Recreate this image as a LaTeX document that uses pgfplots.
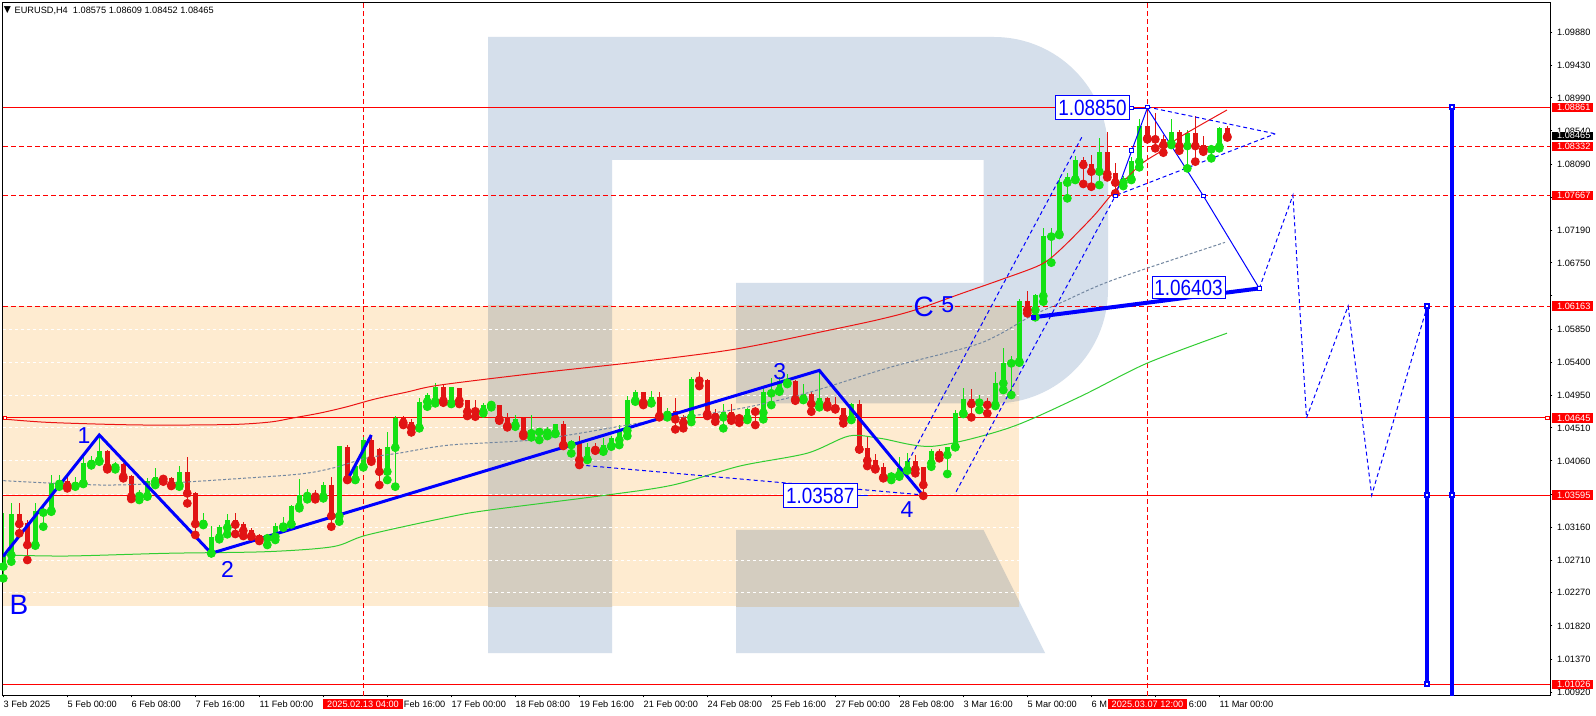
\documentclass[border=0pt]{standalone}
\usepackage{fontspec}
\setmainfont{Liberation Sans}
\newfontfamily\lbf[FakeStretch=0.86]{Liberation Sans}
\newfontfamily\djv{DejaVu Sans}
\usepackage{pgfplots}
\usepackage{pgfplotstable}
\pgfplotsset{compat=1.18}
\definecolor{bullc}{RGB}{20,225,20}
\definecolor{bearc}{RGB}{225,20,20}
\definecolor{lvl}{RGB}{255,0,0}
\definecolor{rblue}{RGB}{213,223,235}
\definecolor{rorange}{RGB}{254,235,208}
\definecolor{rgray}{RGB}{212,205,192}
\definecolor{wblue}{RGB}{0,0,255}
\definecolor{maslate}{RGB}{115,135,160}
\definecolor{magreen}{RGB}{50,205,50}
\definecolor{mared}{RGB}{235,20,20}
\newcommand{\tfont}{\fontsize{4.6}{5}\selectfont}
\newcommand{\Rshape}[1]{%
 \fill[#1] (488,37) -- (900,37) [rounded corners=57pt] -- (1108,37) -- (1108,403.5) -- (900,403.5) [sharp corners] -- (736,403.5) -- (736,283) -- (983.5,283) -- (983.5,160) -- (612,160) -- (612,653) -- (488,653) -- cycle;
 \fill[#1] (736,529.8) -- (983.5,529.8) -- (1045,653) -- (736,653) -- cycle;}

\pgfplotstableread{
x bl bh wl wh
0 1.02626 1.02784 1.02467 1.03350
1 1.02784 1.03341 1.02694 1.03494
4 1.02920 1.03381 1.02911 1.03494
5 1.03359 1.03395 1.03169 1.03463
6 1.03386 1.03766 1.03372 1.03870
7 1.03748 1.03802 1.03712 1.03870
9 1.03721 1.03780 1.03712 1.03847
10 1.03757 1.04037 1.03748 1.04155
11 1.04019 1.04074 1.04001 1.04128
12 1.04065 1.04200 1.04051 1.04413
14 1.03974 1.04019 1.03947 1.04051
17 1.03585 1.03608 1.03531 1.03666
18 1.03585 1.03789 1.03576 1.03825
19 1.03780 1.03838 1.03734 1.03960
22 1.03734 1.03915 1.03712 1.03992
25 1.03205 1.03259 1.03191 1.03359
26 1.02807 1.03033 1.02807 1.03178
27 1.03024 1.03169 1.02997 1.03191
28 1.03155 1.03259 1.03065 1.03336
33 1.03010 1.03046 1.02920 1.03056
34 1.03033 1.03178 1.02988 1.03223
35 1.03169 1.03223 1.03155 1.03295
36 1.03205 1.03449 1.03200 1.03463
37 1.03440 1.03599 1.03418 1.03811
38 1.03585 1.03599 1.03540 1.03675
40 1.03576 1.03730 1.03553 1.03780
42 1.03313 1.04264 1.03237 1.04264
44 1.03811 1.03992 1.03802 1.04006
45 1.03983 1.04345 1.03974 1.04390
48 1.03915 1.04246 1.03802 1.04458
49 1.04241 1.04639 1.03712 1.04671
52 1.04513 1.04866 1.04504 1.04911
53 1.04866 1.04956 1.04798 1.04979
54 1.04866 1.05069 1.04843 1.05124
56 1.04843 1.05060 1.04834 1.05060
60 1.04730 1.04820 1.04707 1.04843
61 1.04820 1.04843 1.04789 1.04866
64 1.04544 1.04626 1.04526 1.04685
66 1.04436 1.04458 1.04381 1.04685
67 1.04454 1.04472 1.04345 1.04503
68 1.04445 1.04458 1.04399 1.04517
69 1.04436 1.04558 1.04427 1.04562
71 1.04277 1.04332 1.04164 1.04345
73 1.04083 1.04246 1.04074 1.04300
75 1.04200 1.04277 1.04187 1.04368
76 1.04264 1.04368 1.04255 1.04399
77 1.04345 1.04481 1.04277 1.04549
78 1.04472 1.04888 1.04399 1.04942
79 1.04879 1.05001 1.04866 1.05024
81 1.04852 1.04924 1.04843 1.05015
83 1.04685 1.04743 1.04653 1.04775
86 1.04653 1.05169 1.04589 1.05205
90 1.04653 1.04730 1.04504 1.04834
93 1.04639 1.04761 1.04617 1.04775
95 1.04716 1.05001 1.04626 1.05060
96 1.04979 1.05024 1.04820 1.05182
97 1.05015 1.05151 1.05001 1.05205
98 1.05123 1.05151 1.05105 1.05237
100 1.04902 1.04970 1.04888 1.05105
102 1.04834 1.04911 1.04789 1.05290
106 1.04626 1.04834 1.04617 1.04852
111 1.03848 1.03893 1.03802 1.03916
112 1.03870 1.03961 1.03848 1.04119
113 1.03938 1.04065 1.03929 1.04164
116 1.04029 1.04201 1.03983 1.04219
118 1.04142 1.04255 1.03884 1.04255
119 1.04255 1.04707 1.04246 1.04753
120 1.04707 1.04897 1.04698 1.05047
122 1.04852 1.04879 1.04753 1.04956
124 1.04821 1.05124 1.04807 1.05273
125 1.05115 1.05386 1.05024 1.05590
126 1.05386 1.05418 1.04956 1.05486
127 1.05409 1.06237 1.05395 1.06255
129 1.06110 1.06314 1.06011 1.06327
130 1.06300 1.07115 1.06223 1.07219
131 1.07106 1.07160 1.06753 1.07219
132 1.07142 1.07852 1.07128 1.07898
133 1.07839 1.07911 1.07626 1.07965
134 1.07884 1.08146 1.07875 1.08201
137 1.07988 1.08259 1.07807 1.08441
140 1.07839 1.07907 1.07793 1.07929
141 1.07888 1.08133 1.07875 1.08192
142 1.08124 1.08608 1.08047 1.08698
146 1.08373 1.08531 1.08350 1.08698
148 1.08336 1.08517 1.08033 1.08554
151 1.08291 1.08336 1.08169 1.08336
152 1.08327 1.08576 1.08305 1.08599
}\bull

\pgfplotstableread{
x bl bh wl wh
2 1.03205 1.03341 1.03078 1.03485
3 1.02920 1.03223 1.02716 1.03259
8 1.03721 1.03793 1.03689 1.03847
13 1.03974 1.04200 1.03947 1.04209
15 1.03847 1.04019 1.03825 1.04028
16 1.03576 1.03856 1.03544 1.03870
20 1.03816 1.03843 1.03780 1.03870
21 1.03734 1.03834 1.03721 1.03847
23 1.03621 1.03906 1.03485 1.04110
24 1.03205 1.03621 1.03056 1.03644
29 1.03196 1.03259 1.03069 1.03350
30 1.03114 1.03205 1.03042 1.03237
31 1.03042 1.03123 1.03033 1.03146
32 1.03001 1.03056 1.02974 1.03069
39 1.03576 1.03599 1.03540 1.03666
41 1.03313 1.03730 1.03169 1.03847
43 1.03811 1.04255 1.03802 1.04277
46 1.04074 1.04345 1.04051 1.04413
47 1.03915 1.04218 1.03734 1.04232
50 1.04580 1.04639 1.04549 1.04671
51 1.04513 1.04594 1.04449 1.04626
55 1.04879 1.05069 1.04852 1.05092
57 1.04879 1.05047 1.04834 1.05047
58 1.04730 1.04888 1.04671 1.04888
59 1.04734 1.04752 1.04662 1.04888
62 1.04626 1.04820 1.04608 1.04820
63 1.04535 1.04653 1.04517 1.04707
65 1.04427 1.04639 1.04399 1.04653
70 1.04277 1.04558 1.04264 1.04608
72 1.04074 1.04322 1.04006 1.04399
74 1.04209 1.04228 1.04200 1.04300
80 1.04852 1.04997 1.04820 1.05001
82 1.04671 1.04924 1.04653 1.04997
84 1.04626 1.04743 1.04490 1.04911
85 1.04580 1.04653 1.04504 1.04685
87 1.05151 1.05169 1.05078 1.05273
88 1.04698 1.05160 1.04671 1.05169
89 1.04653 1.04707 1.04594 1.04770
91 1.04662 1.04725 1.04608 1.04834
92 1.04639 1.04662 1.04580 1.04685
94 1.04730 1.04775 1.04549 1.04798
99 1.04897 1.05151 1.04879 1.05160
101 1.04834 1.04970 1.04730 1.05001
103 1.04820 1.04911 1.04789 1.04933
104 1.04775 1.04820 1.04761 1.04933
105 1.04639 1.04775 1.04571 1.04775
107 1.04218 1.04834 1.04218 1.04888
108 1.04065 1.04232 1.03992 1.04399
109 1.03961 1.04074 1.03947 1.04155
110 1.03838 1.03974 1.03825 1.04028
114 1.03947 1.04065 1.03893 1.04142
115 1.03735 1.03974 1.03587 1.03983
117 1.04142 1.04201 1.04097 1.04219
121 1.04834 1.04897 1.04653 1.05033
123 1.04821 1.04879 1.04707 1.04911
128 1.06110 1.06237 1.06065 1.06373
135 1.08079 1.08146 1.07821 1.08192
136 1.07988 1.08092 1.07784 1.08214
138 1.07956 1.08259 1.07911 1.08531
139 1.07839 1.07965 1.07694 1.08101
143 1.08441 1.08608 1.08427 1.08850
144 1.08427 1.08441 1.08305 1.08780
145 1.08350 1.08427 1.08246 1.08486
147 1.08336 1.08531 1.08273 1.08554
149 1.08336 1.08517 1.08124 1.08744
150 1.08291 1.08350 1.08259 1.08472
153 1.08465 1.08575 1.08452 1.08609
}\bear

\begin{document}
\begin{tikzpicture}
\begin{scope}[x=0.5pt,y=-0.5pt]
\fill[white] (0,0) rectangle (1596,716);
\Rshape{rblue}
\fill[rorange] (3,306) rectangle (1019,606);
\begin{scope}
\clip (3,306) rectangle (1019,606);
\Rshape{rgray}
\end{scope}
\foreach \yy in {329.1,362.3,395.4,427.9,461.0,494.1,527.3,560.4,592.8}
  \draw[white, line width=0.5pt, dash pattern=on 1.5pt off 1.5pt] (3,\yy) -- (1019,\yy);
\end{scope}

\begin{axis}[
  at={(1.5pt,-347.5pt)}, anchor=south west,
  scale only axis, width=773.5pt, height=346.15pt,
  xmin=-0.0375, xmax=193.3375, ymin=1.0088318, ymax=1.102818,
  axis line style={black, line width=0.5pt},
  xtick={0,8,...,152},
  ytick={1.09880,1.09430,1.08990,1.08540,1.08090,1.07640,1.07190,1.06750,1.06300,1.05850,1.05400,1.04950,1.04510,1.04060,1.03610,1.03160,1.02710,1.02270,1.01820,1.01370,1.00920},
  xticklabels={}, yticklabels={}, scaled y ticks=false, scaled x ticks=false,
  xtick pos=left, ytick pos=right, tick align=outside,
  major tick length=1.2pt, tick style={black, line width=0.5pt},
  clip=true,
]
% horizontal levels
\addplot[lvl, line width=0.5pt] coordinates {(-1,1.08861) (200,1.08861)};
\addplot[lvl, line width=0.5pt, dash pattern=on 2.5pt off 1.5pt] coordinates {(-1,1.08332) (200,1.08332)};
\addplot[lvl, line width=0.5pt, dash pattern=on 2.5pt off 1.5pt] coordinates {(-1,1.07667) (200,1.07667)};
\addplot[lvl, line width=0.5pt, dash pattern=on 2.5pt off 1.5pt] coordinates {(-1,1.06163) (200,1.06163)};
\addplot[lvl, line width=0.5pt] coordinates {(0.2,1.04645) (193.05,1.04645)};
\addplot[lvl, line width=0.5pt] coordinates {(-1,1.03595) (200,1.03595)};
\addplot[lvl, line width=0.5pt] coordinates {(-1,1.01026) (200,1.01026)};
\addplot[only marks, mark=square*, mark size=0.9pt, mark options={draw=lvl, fill=white, line width=0.5pt}] coordinates {(0.2,1.04645) (193.05,1.04645)};
% vertical time markers
\addplot[lvl, line width=0.5pt, dash pattern=on 2.5pt off 1.5pt] coordinates {(45,1.0) (45,1.11)};
\addplot[lvl, line width=0.5pt, dash pattern=on 2.5pt off 1.5pt] coordinates {(143,1.0) (143,1.11)};

% candles
\addplot[bullc, only marks, mark=none, forget plot,
  error bars/.cd, y dir=plus, y explicit, error mark=none,
  error bar style={draw=bullc, line width=0.5pt}]
  table[x=x, y=wl, y error expr=\thisrow{wh}-\thisrow{wl}] {\bull};
\addplot[bullc, only marks, mark=none, forget plot,
  error bars/.cd, y dir=plus, y explicit, error mark=none,
  error bar style={draw=bullc, line width=2.5pt}]
  table[x=x, y=bl, y error expr=\thisrow{bh}-\thisrow{bl}] {\bull};
\addplot[bearc, only marks, mark=none, forget plot,
  error bars/.cd, y dir=plus, y explicit, error mark=none,
  error bar style={draw=bearc, line width=0.5pt}]
  table[x=x, y=wl, y error expr=\thisrow{wh}-\thisrow{wl}] {\bear};
\addplot[bearc, only marks, mark=none, forget plot,
  error bars/.cd, y dir=plus, y explicit, error mark=none,
  error bar style={draw=bearc, line width=2.5pt}]
  table[x=x, y=bl, y error expr=\thisrow{bh}-\thisrow{bl}] {\bear};

% moving averages
\addplot[mared, line width=0.5pt, smooth] coordinates {
(0,1.04630) (5.84,1.04583) (17.09,1.04549) (28.34,1.04555) (33.34,1.04589) (36.21,1.04644)
(39.59,1.04711) (42.84,1.04793) (46.46,1.04901) (50.46,1.04996) (54.59,1.05091) (67.09,1.05258)
(79.59,1.05408) (91.59,1.05580) (103.34,1.05838) (109.59,1.05984) (113.96,1.06110) (119.96,1.06341)
(124.59,1.06517) (129.59,1.06721) (132.09,1.06925) (136.21,1.07377) (138.71,1.07698) (142.09,1.08078)
(144.96,1.08282) (147.09,1.08459) (152.96,1.08825)};
\addplot[maslate, line width=0.5pt, dash pattern=on 1.5pt off 1pt, smooth] coordinates {
(0,1.03793) (12.09,1.03734) (20.46,1.03761) (28.71,1.03816) (37.09,1.03883) (41.21,1.03965)
(45.46,1.04101) (49.59,1.04169) (55.84,1.04277) (67.09,1.04355) (79.59,1.04576) (91.59,1.04762)
(100.46,1.04983) (110.84,1.05332) (122.09,1.05658) (128.34,1.06019) (132.46,1.06222) (138.71,1.06517)
(152.71,1.07028)};
\addplot[magreen, line width=0.5pt, smooth] coordinates {
(0,1.02784) (7.96,1.02770) (20.46,1.02807) (32.96,1.02829) (41.21,1.02897) (45.46,1.03055)
(55.84,1.03303) (60.84,1.03395) (75.46,1.03598) (83.71,1.03734) (92.09,1.03992) (100.46,1.04165)
(105.71,1.04399) (109.59,1.04368) (116.21,1.04260) (125.68,1.04508) (134.59,1.04933) (142.93,1.05386)
(152.96,1.05795)};

% thin dashed blue
\addplot[wblue, line width=0.5pt, dash pattern=on 2pt off 1.5pt] coordinates {(72,1.04006) (115,1.03599)};
\addplot[wblue, line width=0.5pt, dash pattern=on 2pt off 1.5pt] coordinates {(113.1,1.04050) (134.96,1.08486)};
\addplot[wblue, line width=0.5pt, dash pattern=on 2pt off 1.5pt] coordinates {(119.1,1.03643) (139,1.07658)};
\addplot[wblue, line width=0.5pt, dash pattern=on 2pt off 1.5pt] coordinates {(143,1.08866) (159,1.08502)};
\addplot[wblue, line width=0.5pt, dash pattern=on 2pt off 1.5pt] coordinates {(139.2,1.07671) (159,1.08502)};
\addplot[wblue, line width=0.5pt, dash pattern=on 2pt off 1.5pt] coordinates {(157,1.06403) (161.2,1.07667) (162.9,1.04645) (168.1,1.06163) (171.05,1.03595) (178,1.06163)};

% thick wave lines
\addplot[wblue, line width=1.5pt] coordinates {(-0.04,1.02763) (12,1.04413) (26,1.02807) (102,1.05290) (115,1.03587)};
\addplot[wblue, line width=1.5pt] coordinates {(43,1.03800) (46,1.04413)};
\addplot[wblue, line width=2pt] coordinates {(128.75,1.06011) (157,1.06403)};
\addplot[only marks, mark=square*, mark size=1pt, mark options={draw=wblue, fill=wblue}] coordinates {(128.75,1.06011)};

% thin solid blue
\addplot[wblue, line width=0.5pt] coordinates {(143,1.08850) (150,1.07660) (157,1.06403)};
\addplot[wblue, line width=0.5pt] coordinates {(139,1.07658) (141.05,1.08272) (143,1.08850)};
\addplot[wblue, line width=0.5pt] coordinates {(140.75,1.08850) (143,1.08850)};
\addplot[only marks, mark=square*, mark size=0.9pt, mark options={draw=wblue, fill=white, line width=0.5pt}] coordinates {(139,1.07658) (141.05,1.08272) (143,1.08866) (141,1.08850) (150,1.07660)};
\addplot[only marks, mark=square*, mark size=1pt, mark options={draw=wblue, fill=white, line width=0.8pt}] coordinates {(157,1.06403)};

% vertical targets
\addplot[wblue, line width=2pt] coordinates {(178,1.06163) (178,1.01026)};
\addplot[wblue, line width=2pt] coordinates {(181.05,1.08861) (181.05,1.0)};
\addplot[only marks, mark=square*, mark size=1pt, mark options={draw=wblue, fill=white, line width=1pt}] coordinates {(178,1.06163) (178,1.03595) (178,1.01026) (181.05,1.08861) (181.05,1.03595)};
\end{axis}

\begin{scope}[x=0.5pt,y=-0.5pt]
% title
\node[inner sep=0pt, font=\tfont] at (7.5,10.5) {\djv\char"25BC};
\node[anchor=west, inner sep=0pt, font=\tfont] at (14.3,11) {EURUSD,H4\ \ 1.08575 1.08609 1.08452 1.08465};
% right axis labels
\foreach \v/\yy in {1.09880/32.3,1.09430/65.4,1.08990/97.9,1.08540/131.0,1.08090/164.2,1.07190/230.4,1.06750/262.9,1.05850/329.1,1.05400/362.3,1.04950/395.4,1.04510/427.9,1.04060/461.0,1.03160/527.3,1.02710/560.4,1.02270/592.8,1.01820/626.0,1.01370/659.1,1.00920/692.3}
  \node[anchor=west, inner sep=0pt, font=\tfont] at (1556.7,\yy) {\v};
\foreach \v/\yy in {1.08861/107.4,1.08332/146.3,1.07667/195.3,1.06163/306.1,1.04645/417.9,1.03595/495.2,1.01026/684.5} {
  \fill[lvl] (1552,\yy-4.75) rectangle (1593,\yy+4.75);
  \node[anchor=west, inner sep=0pt, font=\tfont, text=white] at (1556.7,\yy) {\v};
}
\fill[black] (1552,131.7) rectangle (1593,139.8);
\node[anchor=west, inner sep=0pt, font=\tfont, text=white] at (1556.7,135.8) {1.08465};
% bottom date labels
\foreach \b/\t in {0/3 Feb 2025,8/5 Feb 00:00,16/6 Feb 08:00,24/7 Feb 16:00,32/11 Feb 00:00,56/17 Feb 00:00,64/18 Feb 08:00,72/19 Feb 16:00,80/21 Feb 00:00,88/24 Feb 08:00,96/25 Feb 16:00,104/27 Feb 00:00,112/28 Feb 08:00,120/3 Mar 16:00,128/5 Mar 00:00,152/11 Mar 00:00}
  \node[anchor=north west, inner sep=0pt, font=\tfont] at ({3.3+8*\b},700.7) {\t};
% partly covered date labels: only their visible parts
\node[anchor=north west, inner sep=0pt, font=\tfont] at (403.5,700.7) {Feb 16:00};
\node[anchor=north west, inner sep=0pt, font=\tfont] at (1091.3,700.7) {6 M};
\node[anchor=north west, inner sep=0pt, font=\tfont] at (1188.5,700.7) {6:00};
\fill[lvl] (323.4,699.3) rectangle (402.6,709.3);
\node[inner sep=0pt, font=\tfont, text=white] at (363,704.3) {2025.02.13 04:00};
\fill[lvl] (1108,699.3) rectangle (1187,709.3);
\node[inner sep=0pt, font=\tfont, text=white] at (1147.5,704.3) {2025.03.07 12:00};
% wave labels
\node[text=wblue, inner sep=0pt, font=\fontsize{14}{15}\selectfont] at (19,605) {B};
\node[text=wblue, inner sep=0pt, font=\fontsize{11.5}{12}\selectfont] at (84,435.7) {1};
\node[text=wblue, inner sep=0pt, font=\fontsize{11.5}{12}\selectfont] at (227.5,569) {2};
\node[text=wblue, inner sep=0pt, font=\fontsize{11.5}{12}\selectfont] at (779.7,371.3) {3};
\node[text=wblue, inner sep=0pt, font=\fontsize{11.5}{12}\selectfont] at (907,509.5) {4};
\node[text=wblue, inner sep=0pt, font=\fontsize{14}{15}\selectfont] at (923.7,307.3) {C};
\node[text=wblue, inner sep=0pt, font=\fontsize{11.5}{12}\selectfont] at (947.7,304.5) {5};
% boxed price labels
\draw[wblue, fill=white, line width=0.5pt] (1055.7,96) rectangle (1129.3,120);
\node[text=wblue, inner sep=0pt, font=\lbf\fontsize{11}{12}\selectfont] at (1092.5,108) {1.08850};
\draw[wblue, fill=white, line width=0.5pt] (1152,277) rectangle (1225,298.5);
\node[text=wblue, inner sep=0pt, font=\lbf\fontsize{11}{12}\selectfont] at (1188.5,287.7) {1.06403};
\draw[wblue, fill=white, line width=0.5pt] (783.3,484) rectangle (857.3,507.5);
\node[text=wblue, inner sep=0pt, font=\lbf\fontsize{11}{12}\selectfont] at (820.3,495.8) {1.03587};
\draw[wblue, line width=0.5pt] (857.3,495.2) -- (868,495.2);
\pgfresetboundingbox
\path[use as bounding box] (0,0) rectangle (1596,716);
\end{scope}
\end{tikzpicture}
\end{document}
